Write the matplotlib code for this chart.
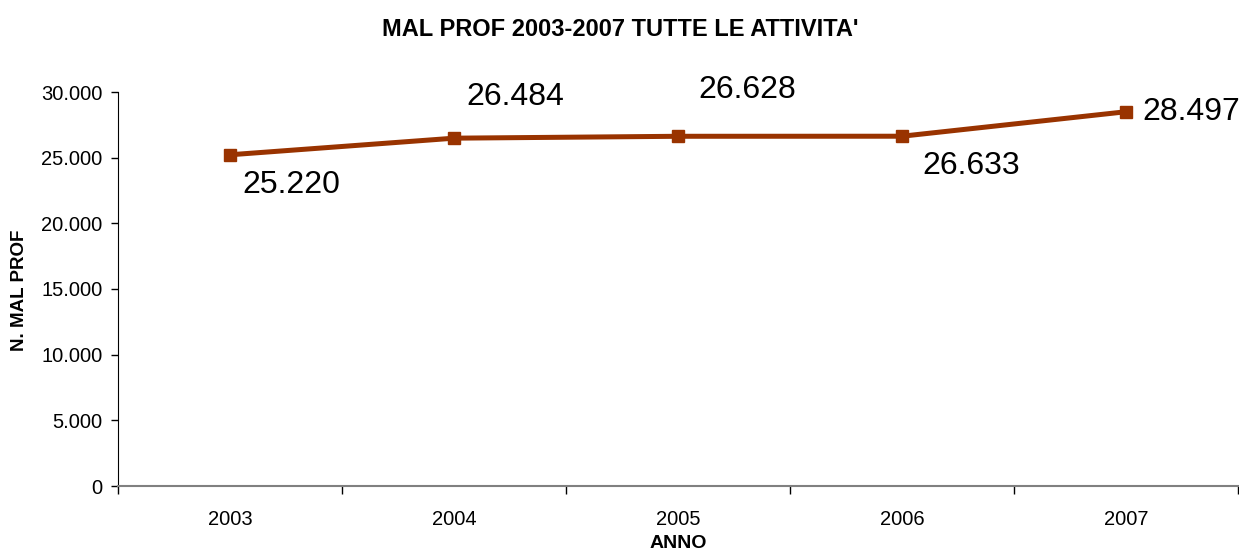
import matplotlib
matplotlib.use("Agg")
import matplotlib.pyplot as plt
from matplotlib.ticker import FuncFormatter, FixedLocator

plt.rcParams['font.family'] = ['Liberation Sans', 'DejaVu Sans']

years = ["2003", "2004", "2005", "2006", "2007"]
values = [25220, 26484, 26628, 26633, 28497]
labels = ["25.220", "26.484", "26.628", "26.633", "28.497"]
label_offsets = [(12, -30), (12, 41), (20, 46), (20, -30), (16, 0)]

W, H = 1239, 552
fig = plt.figure(figsize=(W / 100, H / 100), dpi=100)
ax = fig.add_axes([118 / W, (H - 486) / H, (1238 - 118) / W, (486 - 92) / H])

x = list(range(len(years)))
ax.plot(x, values, color="#993300", lw=3.6, marker="s", markersize=8.5, zorder=3)

for xi, v, lab, off in zip(x, values, labels, label_offsets):
    ax.annotate(lab, (xi, v), xytext=off, textcoords="offset pixels",
                ha="left", va="center", fontsize=23, color="black")

ax.set_xlim(-0.5, len(years) - 0.5)
ax.set_ylim(0, 30000)
ax.set_yticks(range(0, 30001, 5000))
ax.yaxis.set_major_formatter(FuncFormatter(lambda v, p: f"{int(v):,}".replace(",", ".")))
ax.set_xticks(x)
ax.set_xticklabels(years)
ax.xaxis.set_minor_locator(FixedLocator([i - 0.5 for i in range(len(years) + 1)]))
ax.tick_params(axis="x", which="major", length=0, labelsize=14.5, pad=17)
ax.tick_params(axis="x", which="minor", length=6, width=1, color="black")
ax.tick_params(axis="y", length=5, width=1, labelsize=14.5, pad=6)

for s in ["top", "right"]:
    ax.spines[s].set_visible(False)
ax.spines["left"].set_color("black")
ax.spines["bottom"].set_color("#808080")
ax.spines["bottom"].set_linewidth(1.5)

fig.text(620 / W, 1 - 30 / H, "MAL PROF 2003-2007 TUTTE LE ATTIVITA'", ha="center", va="center",
         fontsize=17, fontweight="bold")
fig.text(20 / W, 1 - 290 / H, "N. MAL PROF", ha="center", va="center", rotation=90,
         fontsize=13.5, fontweight="bold")
fig.text(678 / W, 1 - 544 / H, "ANNO", ha="center", va="center", fontsize=14, fontweight="bold")

fig.savefig("out.png", dpi=100)
